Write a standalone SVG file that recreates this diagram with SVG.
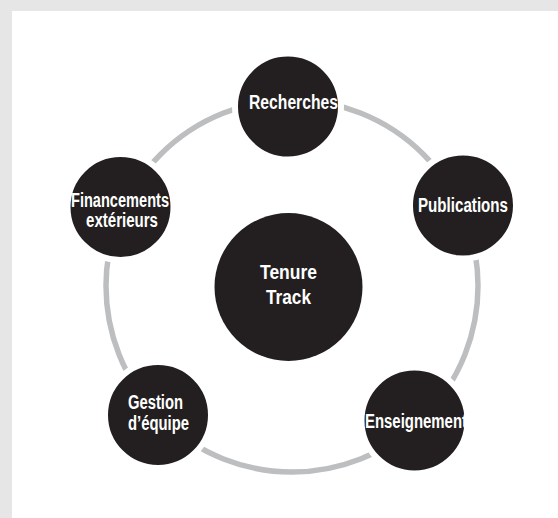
<svg xmlns="http://www.w3.org/2000/svg" width="558" height="518" viewBox="0 0 558 518">
<style>
.node{fill:#231f20;stroke:#ffffff;stroke-width:6}
.ring{fill:none;stroke:#bcbec0;stroke-width:5.5}
.lbl{fill:#ffffff;font-family:"Liberation Sans Narrow","Liberation Sans","DejaVu Sans Condensed",sans-serif;font-weight:bold;font-size:19.5px}
</style>
<rect x="0" y="0" width="558" height="518" fill="#e6e6e6"/>
<rect x="12" y="11" width="546" height="507" fill="#ffffff"/>
<g id="connectors">
<circle class="ring" cx="292" cy="286" r="186"/>
</g>
<g id="center">
<circle class="node" cx="288.5" cy="287" r="74" style="stroke:none"/>
<text class="lbl" x="260" y="279" textLength="57" lengthAdjust="spacingAndGlyphs">Tenure</text>
<text class="lbl" x="266" y="304" textLength="45" lengthAdjust="spacingAndGlyphs">Track</text>
</g>
<g id="recherches">
<circle class="node" cx="288" cy="106.5" r="53"/>
<text class="lbl" x="249" y="109" textLength="89" lengthAdjust="spacingAndGlyphs">Recherches</text>
</g>
<g id="publications">
<circle class="node" cx="463" cy="205.5" r="53"/>
<text class="lbl" x="418" y="212" textLength="90" lengthAdjust="spacingAndGlyphs">Publications</text>
</g>
<g id="enseignement">
<circle class="node" cx="414.5" cy="420.5" r="53"/>
<text class="lbl" x="365" y="428" textLength="102" lengthAdjust="spacingAndGlyphs">Enseignement</text>
</g>
<g id="gestion">
<circle class="node" cx="158" cy="415" r="53"/>
<text class="lbl" x="128" y="409" textLength="55" lengthAdjust="spacingAndGlyphs">Gestion</text>
<text class="lbl" x="128" y="430" textLength="61" lengthAdjust="spacingAndGlyphs">d’équipe</text>
</g>
<g id="financements">
<circle class="node" cx="120.5" cy="207" r="53"/>
<text class="lbl" x="71" y="206.5" textLength="98" lengthAdjust="spacingAndGlyphs">Financements</text>
<text class="lbl" x="86" y="227" textLength="72" lengthAdjust="spacingAndGlyphs">extérieurs</text>
</g>
</svg>
